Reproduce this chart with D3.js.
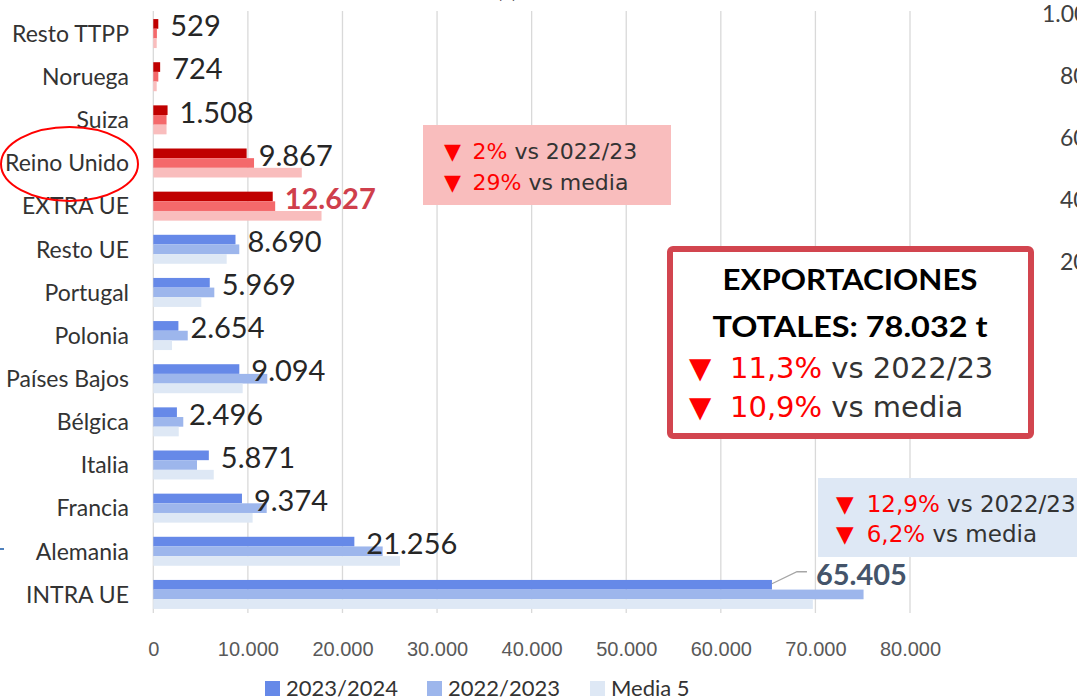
<!DOCTYPE html>
<html>
<head>
<meta charset="utf-8">
<script src="https://cdn.jsdelivr.net/npm/d3@7"></script>
<style>
  body { margin: 0; background: #fff; }
  svg { display: block; }
</style>
</head>
<body>
<svg id="chart" width="1077" height="698"></svg>
<script>
// data (toneladas)
const categories = ['Resto TTPP', 'Noruega', 'Suiza', 'Reino Unido', 'EXTRA UE',
  'Resto UE', 'Portugal', 'Polonia', 'Países Bajos', 'Bélgica', 'Italia',
  'Francia', 'Alemania', 'INTRA UE']
const v2324 = [529, 724, 1508, 9867, 12627, 8690, 5969, 2654, 9094, 2496, 5871, 9374, 21256, 65405]
const v2223 = [380, 530, 1400, 10650, 12885, 9090, 6450, 3640, 12050, 3170, 4620, 11990, 24250, 75090]
const media5 = [360, 360, 1400, 15700, 17785, 7760, 5075, 1980, 9450, 2690, 6390, 10500, 26080, 69730]
const extraUE = ['Resto TTPP', 'Noruega', 'Suiza', 'Reino Unido', 'EXTRA UE']
const seriesNames = ['2023/2024', '2022/2023', 'Media 5']
const xTicks = [0, 10000, 20000, 30000, 40000, 50000, 60000, 70000, 80000]
const rightTicks = ['1.000', '800', '600', '400', '200']

const blues = ['#6689e8', '#9db6ec', '#dee8f5']
const reds = ['#c00000', '#f4696b', '#f9bdbd']

const locale = d3.formatLocale({ decimal: ',', thousands: '.', grouping: [3], currency: ['', ' €'] })
const fmt = locale.format(',d')

const svg = d3.select('#chart')

var x = d3.scaleLinear().domain([0, 80000]).range([153.3, 910])
var y = d3.scaleBand().domain(categories).range([12, 616])
  .paddingInner(0.328).paddingOuter(0.164)
var ys = d3.scaleBand().domain(seriesNames).range([0, y.bandwidth()])

// gridlines
svg.append('g')
  .selectAll('line')
  .data(xTicks)
  .join('line')
  .attr('x1', d => x(d)).attr('x2', d => x(d))
  .attr('y1', 11).attr('y2', 613)
  .attr('stroke', '#d9d9d9').attr('stroke-width', 1.3)

// x axis labels
svg.append('g')
  .attr('transform', 'translate(0,653)')
  .call(d3.axisBottom(x).tickValues(xTicks).tickSize(0).tickFormat(fmt))
  .call(g => g.select('.domain').remove())
  .selectAll('text')
  .attr('dy', 0)
  .attr('fill', '#595959')
  .style('font-family', 'Liberation Sans, Arial, sans-serif')
  .style('font-size', '20px')

// category labels
svg.append('g')
  .selectAll('text')
  .data(categories)
  .join('text')
  .attr('x', 129)
  .attr('y', d => y(d) + y.bandwidth() / 2)
  .attr('dy', '0.36em')
  .attr('text-anchor', 'end')
  .attr('fill', '#333')
  .style('font-family', 'Lato, sans-serif')
  .style('font-size', '23px')
  .text(d => d)

// bars
const rows = categories.map((c, i) => ({ cat: c, vals: [v2324[i], v2223[i], media5[i]] }))
const groups = svg.append('g')
  .selectAll('g')
  .data(rows)
  .join('g')
  .attr('transform', d => 'translate(0,' + y(d.cat) + ')')

groups.selectAll('rect')
  .data(d => d.vals.map((v, k) => ({ cat: d.cat, v: v, k: k })))
  .join('rect')
  .attr('x', x(0))
  .attr('y', d => ys(seriesNames[d.k]))
  .attr('width', d => x(d.v) - x(0))
  .attr('height', ys.bandwidth())
  .attr('fill', d => (extraUE.includes(d.cat) ? reds : blues)[d.k])

// data labels (2023/2024)
const lbl = svg.append('g')
  .style('font-family', 'Lato, sans-serif')
  .style('font-size', '29px')

rows.forEach((d, i) => {
  const yc = y(d.cat) + ys(seriesNames[0]) + ys.bandwidth() / 2
  if (d.cat === 'INTRA UE') {
    const xe = x(d.vals[0])
    svg.append('path')
      .attr('d', 'M' + xe + ',' + (yc - 1) + 'L' + (xe + 25) + ',' + (yc - 13) + 'H' + (xe + 35))
      .attr('fill', 'none').attr('stroke', '#a6a6a6').attr('stroke-width', 1.3)
    lbl.append('text')
      .attr('x', xe + 44).attr('y', yc - 10).attr('dy', '0.36em')
      .attr('fill', '#44546a').attr('font-weight', 'bold')
      .text(fmt(d.vals[0]))
    return
  }
  lbl.append('text')
    .attr('x', x(d.vals[0]) + 12)
    .attr('y', yc + 2)
    .attr('dy', '0.36em')
    .attr('fill', d.cat === 'EXTRA UE' ? '#cf3f4c' : '#262626')
    .attr('font-weight', d.cat === 'EXTRA UE' ? 'bold' : null)
    .text(fmt(d.vals[0]))
})

// ellipse around Reino Unido
svg.append('ellipse')
  .attr('cx', 69.5).attr('cy', y('Reino Unido') + y.bandwidth() / 2 + 1)
  .attr('rx', 68.5).attr('ry', 37)
  .attr('fill', 'none').attr('stroke', '#ff0000').attr('stroke-width', 2)

// small mark on the left edge
svg.append('line').attr('x1', 0).attr('x2', 4).attr('y1', 549).attr('y2', 549)
  .attr('stroke', '#4f81bd').attr('stroke-width', 2)

// clipped title bit and secondary axis from the chart behind
svg.append('text').attr('x', 507).attr('y', -3).attr('text-anchor', 'middle')
  .style('font-family', 'Lato, sans-serif').style('font-size', '24px').attr('font-weight', 'bold')
  .attr('fill', '#262626').text('(t)')
svg.append('g')
  .selectAll('text')
  .data(rightTicks)
  .join('text')
  .attr('x', (d, i) => i === 0 ? 1042 : 1060)
  .attr('y', (d, i) => 22 + i * 62)
  .attr('fill', '#404040')
  .style('font-family', 'Lato, sans-serif')
  .style('font-size', '23px')
  .text(d => d)

// callout boxes
function callout(x0, y0, w, h, fill, lines, size, triX, txtX, lh, base) {
  const g = svg.append('g')
  g.append('rect').attr('x', x0).attr('y', y0).attr('width', w).attr('height', h).attr('fill', fill)
  lines.forEach((l, i) => {
    const yy = base + i * lh
    g.append('text').attr('x', triX).attr('y', yy)
      .style('font-family', 'DejaVu Sans, sans-serif').style('font-size', size + 'px')
      .attr('fill', '#ff0000').text('▼')
    const t = g.append('text').attr('x', txtX).attr('y', yy)
      .style('font-family', 'DejaVu Sans, sans-serif').style('font-size', size + 'px')
    t.append('tspan').attr('fill', '#ff0000').text(l[0])
    t.append('tspan').attr('fill', '#333').text(' ' + l[1])
  })
  return g
}

callout(423, 125, 248, 80, '#f9bdbd', [['2%', 'vs 2022/23'], ['29%', 'vs media']], 22, 444, 472.5, 31, 159)
callout(818, 478, 270, 79, '#dee8f5', [['12,9%', 'vs 2022/23'], ['6,2%', 'vs media']], 23, 836, 866.7, 30, 512)

// total box
const tb = svg.append('g')
tb.append('rect').attr('x', 670).attr('y', 249).attr('width', 361).attr('height', 187)
  .attr('rx', 3).attr('fill', '#fff').attr('stroke', '#d2454f').attr('stroke-width', 6)
tb.append('text').attr('x', 850).attr('y', 290).attr('text-anchor', 'middle')
  .style('font-family', 'Lato, sans-serif').style('font-size', '29px').attr('font-weight', 'bold')
  .attr('fill', '#000').attr('textLength', 255).attr('lengthAdjust', 'spacingAndGlyphs')
  .text('EXPORTACIONES')
tb.append('text').attr('x', 850).attr('y', 337).attr('text-anchor', 'middle')
  .style('font-family', 'Lato, sans-serif').style('font-size', '29px').attr('font-weight', 'bold')
  .attr('fill', '#000').attr('textLength', 275).attr('lengthAdjust', 'spacingAndGlyphs')
  .text('TOTALES: 78.032 t')
;[['11,3%', 'vs 2022/23'], ['10,9%', 'vs media']].forEach((l, i) => {
  const yy = 378 + i * 39
  tb.append('text').attr('x', 689).attr('y', yy)
    .style('font-family', 'DejaVu Sans, sans-serif').style('font-size', '29px')
    .attr('fill', '#ff0000').text('▼')
  const t = tb.append('text').attr('x', 730).attr('y', yy)
    .style('font-family', 'DejaVu Sans, sans-serif').style('font-size', '29px')
  t.append('tspan').attr('fill', '#ff0000').text(l[0])
  t.append('tspan').attr('fill', '#333').text(' ' + l[1])
})

// legend
const legX = [265, 427, 590]
const leg = svg.append('g')
seriesNames.forEach((s, i) => {
  leg.append('rect').attr('x', legX[i]).attr('y', 681).attr('width', 15).attr('height', 15).attr('fill', blues[i])
  leg.append('text').attr('x', legX[i] + 21).attr('y', 696)
    .style('font-family', 'Lato, sans-serif').style('font-size', '22px')
    .attr('fill', '#333').text(s)
})
</script>
</body>
</html>
